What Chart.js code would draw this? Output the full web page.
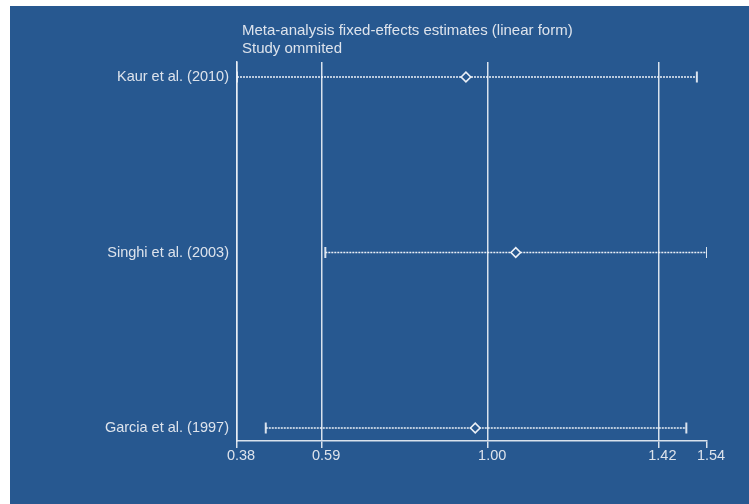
<!DOCTYPE html>
<html>
<head>
<meta charset="utf-8">
<script src="https://cdn.jsdelivr.net/npm/chart.js@4.4.1/dist/chart.umd.min.js"></script>
<style>
    body { margin: 0; background: #ffffff; }
    #wrap { width: 749px; height: 504px; }
</style>
</head>
<body>
<div id="wrap"><canvas id="metaChart" width="749" height="504"></canvas></div>
<script>
var tieuDe = ["Meta-analysis fixed-effects estimates (linear form)", "Study ommited"];
var nghienCuu = ["Kaur et al. (2010)", "Singhi et al. (2003)", "Garcia et al. (1997)"];
var uocLuong = [0.945, 1.068, 0.968];
var canDuoi = [0.38, 0.598, 0.451];
var canTren = [1.515, 1.54, 1.489];
var mocTruc = [0.38, 0.59, 1.00, 1.42, 1.54];

var mauNen = "#275890";
var mauVach = "rgba(232, 238, 245, 0.92)";
var mauCham = "rgba(245, 248, 252, 0.95)";
var mauChu = "#dde3ec";

// vi tri hang: nghien cuu dau tien o tren cung
function viTriHang(i) {
    return nghienCuu.length - i;
}

var datasets = [];

var diemUocLuong = [];
var diemCan = [];
for (var i = 0; i < nghienCuu.length; i++) {
    diemUocLuong.push({ x: uocLuong[i], y: viTriHang(i) });
    diemCan.push({ x: canDuoi[i], y: viTriHang(i) });
    diemCan.push({ x: canTren[i], y: viTriHang(i) });
    datasets.push({
        label: nghienCuu[i],
        data: [{ x: canDuoi[i], y: viTriHang(i) }, { x: canTren[i], y: viTriHang(i) }],
        showLine: true,
        borderColor: mauCham,
        borderWidth: 1.3,
        borderDash: [2, 1],
        pointRadius: 0,
        order: 3
    });
}

datasets.push({
    label: "CI",
    data: diemCan,
    pointStyle: "line",
    rotation: 90,
    pointRadius: 5.5,
    pointBorderWidth: 2,
    borderColor: mauVach,
    showLine: false,
    order: 2
});

datasets.push({
    label: "Estimate",
    data: diemUocLuong,
    pointStyle: "rectRot",
    pointRadius: 4.8,
    pointBorderWidth: 1.6,
    pointBackgroundColor: mauNen,
    borderColor: mauCham,
    backgroundColor: mauNen,
    showLine: false,
    order: 1
});

var nenPlugin = {
    id: "nen",
    beforeDraw: function (chart) {
        var ctx = chart.ctx;
        ctx.save();
        ctx.fillStyle = "#ffffff";
        ctx.fillRect(0, 0, chart.width, chart.height);
        ctx.fillStyle = mauNen;
        ctx.fillRect(10, 6, chart.width - 10, chart.height - 6);
        ctx.restore();
    }
};

var tieuDePlugin = {
    id: "tieuDe",
    afterDraw: function (chart) {
        var ctx = chart.ctx;
        ctx.save();
        ctx.fillStyle = mauChu;
        ctx.font = "15px 'Liberation Sans', Arial, sans-serif";
        ctx.textAlign = "left";
        ctx.textBaseline = "alphabetic";
        for (var i = 0; i < tieuDe.length; i++) {
            ctx.fillText(tieuDe[i], chart.chartArea.left + 5, 34.5 + i * 18);
        }
        ctx.restore();
    }
};

var ctxM = document.getElementById("metaChart").getContext("2d");
new Chart(ctxM, {
    type: "scatter",
    data: { datasets: datasets },
    plugins: [nenPlugin, tieuDePlugin],
    options: {
        responsive: false,
        animation: false,
        devicePixelRatio: 1,
        layout: { padding: { top: 62, right: 42, left: 0, bottom: 0 } },
        plugins: {
            legend: { display: false },
            tooltip: { enabled: false },
            title: { display: false }
        },
        elements: { line: { tension: 0 } },
        scales: {
            x: {
                type: "linear",
                min: mocTruc[0],
                max: mocTruc[mocTruc.length - 1],
                afterBuildTicks: function (scale) {
                    scale.ticks = mocTruc.map(function (v) { return { value: v }; });
                },
                afterFit: function (scale) {
                    scale.height = 63;
                },
                ticks: {
                    color: mauChu,
                    font: { family: "'Liberation Sans', Arial, sans-serif", size: 14.5 },
                    padding: -1,
                    labelOffset: 4,
                    maxRotation: 0,
                    autoSkip: false,
                    callback: function (value) { return value.toFixed(2); }
                },
                grid: {
                    color: function (c) {
                        return c.tick && c.tick.value === mocTruc[mocTruc.length - 1] ? "rgba(0,0,0,0)" : mauVach;
                    },
                    tickColor: mauVach,
                    lineWidth: 1.5,
                    tickLength: 7
                },
                border: { display: true, color: mauVach, width: 1.5 }
            },
            y: {
                type: "linear",
                min: 0.926,
                max: 3.0855,
                afterBuildTicks: function (scale) {
                    scale.ticks = nghienCuu.map(function (n, i) { return { value: viTriHang(i) }; });
                },
                afterFit: function (scale) {
                    scale.width = 237;
                },
                ticks: {
                    color: mauChu,
                    font: { family: "'Liberation Sans', Arial, sans-serif", size: 14.5 },
                    padding: 8,
                    autoSkip: false,
                    callback: function (value) {
                        var i = nghienCuu.length - value;
                        return nghienCuu[i] || "";
                    }
                },
                grid: { display: false, drawTicks: false },
                border: { display: true, color: mauVach, width: 1.5 }
            }
        }
    }
});
</script>
</body>
</html>
